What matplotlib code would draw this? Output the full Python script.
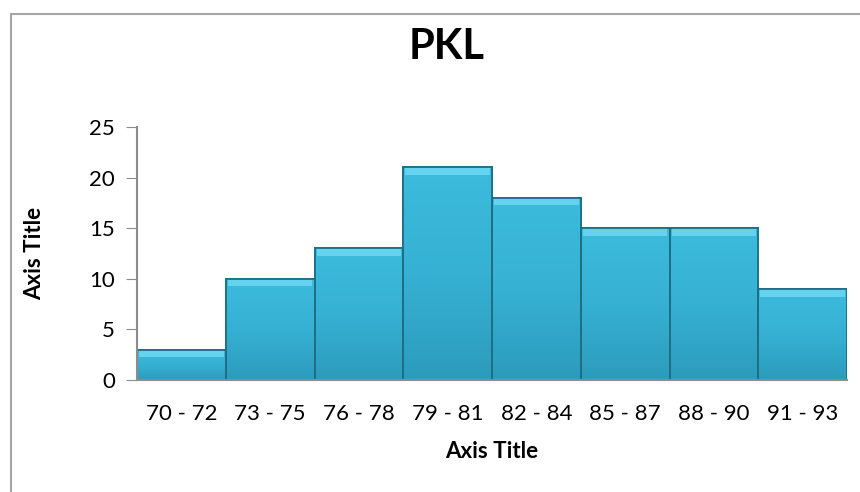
import numpy as np
import matplotlib.pyplot as plt
from matplotlib.patches import Rectangle
from matplotlib.colors import LinearSegmentedColormap

plt.rcParams['font.family'] = ['Lato', 'DejaVu Sans']

bins = ['70 - 72', '73 - 75', '76 - 78', '79 - 81', '82 - 84', '85 - 87', '88 - 90', '91 - 93']
counts = [3, 10, 13, 21, 18, 15, 15, 9]

fig = plt.figure(figsize=(8.6, 4.92), dpi=100)
# chart area border like the spreadsheet frame
fig.patches.append(Rectangle((11 / 860, -0.01), 1.0, 1 - 14 / 492 + 0.01,
                             transform=fig.transFigure, fill=False,
                             edgecolor='#a6a6a6', linewidth=1.5))

ax = fig.add_axes([137 / 860, 1 - 380 / 492, 710 / 860, 253 / 492])
x = range(len(counts))
bars = ax.bar(x, counts, width=1.0, color='#35b3d4', edgecolor='#1e6f86',
              linewidth=1.3, zorder=2)

# vertical gradient inside each bar (lighter top, darker bottom)
grad_cmap = LinearSegmentedColormap.from_list('bar', ['#2c9bbc', '#36b1d3', '#3cbbdc'])
grad = np.linspace(0, 1, 256).reshape(-1, 1)
for b in bars:
    x0, y0, w, h = b.get_x(), b.get_y(), b.get_width(), b.get_height()
    im = ax.imshow(grad, cmap=grad_cmap, origin='lower', aspect='auto',
                   extent=[x0, x0 + w, y0, y0 + h], zorder=2.1)
    im.set_clip_path(b)
    ax.add_patch(Rectangle((x0, y0), w, h, fill=False, edgecolor='#1e6f86',
                           linewidth=1.3, zorder=2.3))

# lighter bevel strip on top of each bar
bevel = 0.75
ax.bar(x, [bevel] * len(counts), bottom=[c - bevel for c in counts], width=0.95,
       color='#66d3ee', linewidth=0, zorder=2.2)

ax.set_xlim(-0.5, len(counts) - 0.5)
ax.set_ylim(0, 25)
ax.set_yticks(range(0, 26, 5))
ax.set_xticks(list(x))
ax.set_xticklabels(bins)
ax.tick_params(axis='y', labelsize=16, length=8, color='#8c8c8c', pad=8)
ax.tick_params(axis='x', labelsize=16, length=0, pad=17)

for s in ['top', 'right']:
    ax.spines[s].set_visible(False)
for s in ['left', 'bottom']:
    ax.spines[s].set_color('#8c8c8c')
    ax.spines[s].set_linewidth(1.5)
    ax.spines[s].set_zorder(3)

ax.set_xlabel('Axis Title', fontsize=16, fontweight='bold', va='center')
ax.xaxis.set_label_coords(0.5, (380 - 452) / -253 * -1)
ax.set_ylabel('Axis Title', fontsize=16, fontweight='bold', va='center')
ax.yaxis.set_label_coords((35 - 137) / 710, 0.5)
fig.text(447 / 860, 1 - 47 / 492, 'PKL', fontsize=30, fontweight='bold',
         ha='center', va='center')

fig.savefig('out.png', dpi=100)
